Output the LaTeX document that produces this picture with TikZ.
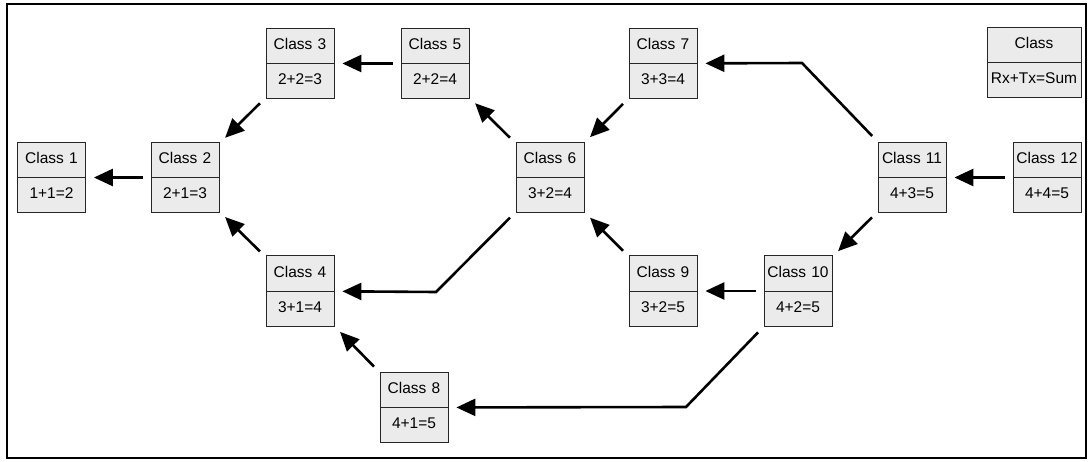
\documentclass[tikz,border=0pt]{standalone}
\usepackage{fontspec}
\setmainfont{Liberation Sans}
\usetikzlibrary{shapes.multipart,arrows.meta}
\definecolor{boxgray}{RGB}{235,235,235}
\tikzset{
  cls/.style={rectangle split, rectangle split parts=2, draw=black!85, line width=0.8pt,
    fill=boxgray, text width=64pt, align=center, inner xsep=2pt, inner ysep=7.95pt,
    font=\fontsize{15.5}{18.6}\selectfont},
  wide/.style={text width=90pt},
  arr/.style={line width=2.6pt, -{Triangle[length=19pt,width=17pt]}, shorten >=8pt, shorten <=8pt},
  frame/.style={line width=2.5pt, draw=black},
}
\begin{document}
\begin{tikzpicture}[x=1pt,y=-1pt]
\useasboundingbox (0,0) rectangle (1090,461);
\draw[frame] (7,4) rectangle (1086,458);

\node[cls] (c1) at (51.5,177.5) {\strut Class 1\nodepart{two}\strut 1+1=2};
\node[cls] (c2) at (185,177.5) {\strut Class 2\nodepart{two}\strut 2+1=3};
\node[cls] (c3) at (300,63.5) {\strut Class 3\nodepart{two}\strut 2+2=3};
\node[cls] (c5) at (435,63.5) {\strut Class 5\nodepart{two}\strut 2+2=4};
\node[cls] (c7) at (663,63.5) {\strut Class 7\nodepart{two}\strut 3+3=4};
\node[cls,wide] (leg) at (1034,62.5) {\strut Class\nodepart{two}\strut Rx+Tx=Sum};
\node[cls] (c6) at (550,177.5) {\strut Class 6\nodepart{two}\strut 3+2=4};
\node[cls] (c11) at (912,177.5) {\strut Class 11\nodepart{two}\strut 4+3=5};
\node[cls] (c12) at (1047,177.5) {\strut Class 12\nodepart{two}\strut 4+4=5};
\node[cls] (c4) at (300,291) {\strut Class 4\nodepart{two}\strut 3+1=4};
\node[cls] (c9) at (663,291) {\strut Class 9\nodepart{two}\strut 3+2=5};
\node[cls] (c10) at (798,291) {\strut Class 10\nodepart{two}\strut 4+2=5};
\node[cls] (c8) at (414,407.5) {\strut Class 8\nodepart{two}\strut 4+1=5};

\coordinate (b64) at (436,292);
\coordinate (b117) at (802,63);
\coordinate (b108) at (686,407);

\draw[arr] (c2) -- (c1);
\draw[arr] (c3) -- (c2);
\draw[arr] (c4) -- (c2);
\draw[arr] (c5) -- (c3);
\draw[arr] (c6) -- (c5);
\draw[arr] (c7) -- (c6);
\draw[arr] (c9) -- (c6);
\draw[arr] (c8) -- (c4);
\draw[arr] (c10) -- (c9);
\draw[arr] (c11) -- (c10);
\draw[arr] (c12) -- (c11);
\draw[arr, line join=miter] (c6) -- (b64) -- (c4);
\draw[arr, line join=miter] (c11) -- (b117) -- (c7);
\draw[arr, line join=miter] (c10) -- (b108) -- (c8);
\end{tikzpicture}
\end{document}
